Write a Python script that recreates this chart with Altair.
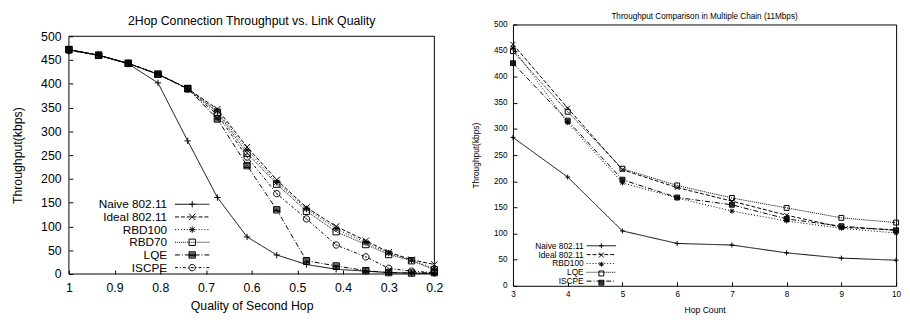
import altair as alt
import pandas as pd

FONT = "Liberation Sans"

# ---------------- left panel data ----------------
left_title = "2Hop Connection Throughput vs. Link Quality"
left_x_title = "Quality of Second Hop"
left_y_title = "Throughput(kbps)"
quality = [1.0, 0.935, 0.87, 0.805, 0.74, 0.675, 0.61, 0.545, 0.48, 0.415, 0.35, 0.3, 0.25, 0.2]
quality_ticks = [1.0, 0.9, 0.8, 0.7, 0.6, 0.5, 0.4, 0.3, 0.2]
left_series = ["Naive 802.11", "Ideal 802.11", "RBD100", "RBD70", "LQE", "ISCPE"]
left_naive = [472, 460, 442, 402, 280, 161, 78, 40, 20, 10, 6, 3, 2, 1]
left_ideal = [472, 460, 443, 421, 390, 347, 267, 198, 140, 100, 70, 46, 30, 20]
left_rbd100 = [472, 460, 443, 420, 390, 343, 261, 193, 137, 95, 66, 44, 29, 12]
left_rbd70 = [472, 460, 443, 420, 390, 340, 254, 189, 132, 89, 62, 41, 28, 9]
left_lqe = [472, 460, 443, 420, 390, 326, 228, 135, 28, 17, 7, 3, 2, 3]
left_iscpe = [470, 460, 443, 420, 389, 335, 246, 169, 116, 61, 36, 12, 6, 3]
left_values = [left_naive, left_ideal, left_rbd100, left_rbd70, left_lqe, left_iscpe]

# ---------------- right panel data ----------------
right_title = "Throughput Comparison in Multiple Chain (11Mbps)"
right_x_title = "Hop Count"
right_y_title = "Throughput(kbps)"
hops = [3, 4, 5, 6, 7, 8, 9, 10]
right_series = ["Naive 802.11", "Ideal 802.11", "RBD100", "LQE", "ISCPE"]
right_naive = [284, 208, 105, 81, 78, 63, 53, 49]
right_ideal = [462, 340, 222, 188, 162, 135, 112, 107]
right_rbd100 = [455, 312, 197, 168, 143, 124, 110, 101]
right_lqe = [449, 333, 224, 192, 168, 149, 130, 121]
right_iscpe = [426, 316, 203, 169, 155, 128, 114, 106]
right_values = [right_naive, right_ideal, right_rbd100, right_lqe, right_iscpe]

throughput_ticks = [0, 50, 100, 150, 200, 250, 300, 350, 400, 450, 500]

# ---------------- styles ----------------
PLUS = "M-1,0L1,0M0,-1L0,1"
CROSS = "M-1,-1L1,1M-1,1L1,-1"
STAR = "M-1,0L1,0M0,-1L0,1M-0.75,-0.75L0.75,0.75M-0.75,0.75L0.75,-0.75"
SQUARE = "M-1,-1L1,-1L1,1L-1,1Z"
FSQUARE = ("M-1,-1L1,-1L1,1L-1,1ZM-1,-0.6L1,-0.6M-1,-0.2L1,-0.2"
           "M-1,0.2L1,0.2M-1,0.6L1,0.6")
CIRCLE = "M-1,0A1,1,0,1,1,1,0A1,1,0,1,1,-1,0ZM-0.2,0L0.2,0"
LEGLINE = "M-5,0L5,0"

left_dashes = [[1, 0], [4, 2], [1, 2], [1, 1], [5, 2, 1, 2], [3, 2, 1, 2]]
left_shapes = [PLUS, CROSS, STAR, SQUARE, FSQUARE, CIRCLE]

right_dashes = [[1, 0], [4, 2], [1, 2], [1, 1], [5, 2, 1, 2]]
right_shapes = [PLUS, CROSS, STAR, SQUARE, FSQUARE]


def long_df(xs, names, values):
    rows = []
    for name, vals in zip(names, values):
        for x, y in zip(xs, vals):
            rows.append({"x": x, "y": y, "series": name, "key": "m " + name})
    return pd.DataFrame(rows)


def panel(df, names, dashes, shapes, msize, xscale, yscale, xaxis, yaxis,
          width, height, title, legA, legB, frame_data=None):
    keys = ["m " + n for n in names]
    base = alt.Chart(df)
    lines = base.mark_line(color="black", strokeWidth=1).encode(
        x=alt.X("x:Q", scale=xscale, axis=xaxis),
        y=alt.Y("y:Q", scale=yscale, axis=yaxis),
        strokeDash=alt.StrokeDash("series:N", scale=alt.Scale(domain=names, range=dashes),
                                  legend=alt.Legend(**legA)),
    )
    points = base.mark_point(opacity=1, filled=False, color="black", strokeWidth=1,
                             size=msize).encode(
        x=alt.X("x:Q", scale=xscale, axis=xaxis),
        y=alt.Y("y:Q", scale=yscale, axis=yaxis),
        shape=alt.Shape("key:N", scale=alt.Scale(domain=keys, range=shapes),
                        legend=alt.Legend(**legB)),
    )
    layers = [lines, points]
    if frame_data is not None:
        frame = alt.Chart(frame_data).mark_rect(
            fill="transparent", stroke="black", strokeWidth=1
        ).encode(
            x=alt.X("x:Q", scale=xscale, axis=xaxis), x2="x2:Q",
            y=alt.Y("y:Q", scale=yscale, axis=yaxis), y2="y2:Q",
        )
        layers = [frame] + layers
    return alt.layer(*layers).properties(width=width, height=height, title=title)


# ---------------- left panel ----------------
L_FS = 12
L_XSIG = 12
L_SYM = 97.5
L_LX, L_LY = 22, 177
left_legA = dict(orient="none", legendX=L_LX, legendY=L_LY, title=None, symbolType=LEGLINE,
                 symbolSize=49, symbolStrokeWidth=1, symbolStrokeColor="black",
                 labelAlign="right", labelOffset={"expr": str(78 - L_SYM - L_XSIG)},
                 symbolOffset=L_SYM,
                 labelFontSize=L_FS, labelFont=FONT, labelColor="black",
                 rowPadding=0.9, padding=0)
left_legB = dict(orient="none", legendX=L_LX, legendY=L_LY, title=None,
                 symbolSize=42, symbolStrokeWidth=1, symbolStrokeColor="black",
                 symbolOffset=L_SYM, labelFontSize=L_FS, labelOpacity=0,
                 rowPadding=0.9, padding=0)

frame_df = pd.DataFrame({
    "x": [quality_ticks[0]], "x2": [quality_ticks[-1]],
    "y": [throughput_ticks[0]], "y2": [throughput_ticks[-1]],
})

left = panel(
    long_df(quality, left_series, left_values), left_series,
    left_dashes, left_shapes, 42,
    alt.Scale(domain=[0.2, 1.0], reverse=True, nice=False, zero=False),
    alt.Scale(domain=[0, 500], range=[254, 12], nice=False, zero=False),
    alt.Axis(values=quality_ticks, format=".1~f", title=left_x_title, offset=-4, tickSize=4,
             labelPadding=8, labelFontSize=12.5, titleFontSize=12.5, titlePadding=6,
             labelFlush=False, labelOverlap=False),
    alt.Axis(values=throughput_ticks, title=left_y_title, offset=-4, tickSize=4,
             labelPadding=8, labelFontSize=12.5, titleFontSize=12.5, titlePadding=16,
             labelFlush=False, labelOverlap=False, tickCount=11),
    372, 254,
    alt.TitleParams(left_title, fontSize=12.5, offset=-3),
    left_legA, left_legB, frame_data=frame_df,
).properties(view=alt.ViewBackground(stroke="transparent"))

# ---------------- right panel ----------------
R_FS = 8.5
R_XSIG = 8.5
R_SYM = 68.75
R_LX, R_LY = 17, 221
right_legA = dict(orient="none", legendX=R_LX, legendY=R_LY, title=None, symbolType=LEGLINE,
                  symbolSize=36, symbolStrokeWidth=1, symbolStrokeColor="black",
                  labelAlign="right", labelOffset={"expr": str(55 - R_SYM - R_XSIG)},
                  symbolOffset=R_SYM,
                  labelFontSize=R_FS, labelFont=FONT, labelColor="black",
                  rowPadding={"expr": "-0.6"}, padding=0)
right_legB = dict(orient="none", legendX=R_LX, legendY=R_LY, title=None,
                  symbolSize=25, symbolStrokeWidth=1, symbolStrokeColor="black",
                  symbolOffset=R_SYM, labelFontSize=R_FS, labelOpacity=0,
                  rowPadding={"expr": "-0.6"}, padding=0)

right = panel(
    long_df(hops, right_series, right_values), right_series,
    right_dashes, right_shapes, 25,
    alt.Scale(domain=[3, 10], nice=False, zero=False),
    alt.Scale(domain=[0, 500], nice=False, zero=False),
    alt.Axis(values=hops, format="d", title=right_x_title, offset=-4, tickSize=4,
             labelPadding=4, labelFontSize=8.3, titleFontSize=8.8, titlePadding=8,
             labelFlush=False, labelOverlap=False),
    alt.Axis(values=throughput_ticks, title=right_y_title, offset=-4, tickSize=4,
             labelPadding=6, labelFontSize=8.3, titleFontSize=8.5, titlePadding=13,
             labelFlush=False, labelOverlap=False, tickCount=11),
    390, 266,
    alt.TitleParams(right_title, fontSize=8.3, offset=-0.5),
    right_legA, right_legB,
)

chart = alt.hconcat(left, right, spacing=27).resolve_scale(
    strokeDash="independent", shape="independent"
).resolve_legend(
    strokeDash="independent", shape="independent"
).properties(
    padding={"left": 3, "top": 0, "right": 0, "bottom": 0}
).configure_view(
    stroke="black", strokeWidth=1
).configure_title(
    font=FONT, fontWeight="normal", color="black", anchor="middle"
).configure_axis(
    labelFont=FONT, titleFont=FONT, labelColor="black", titleColor="black",
    tickColor="black", titleFontWeight="normal", grid=False, domain=False
).configure_legend(
    labelFont=FONT, labelColor="black"
)

chart.save("out.html", embed_options={"renderer": "svg", "actions": False})
